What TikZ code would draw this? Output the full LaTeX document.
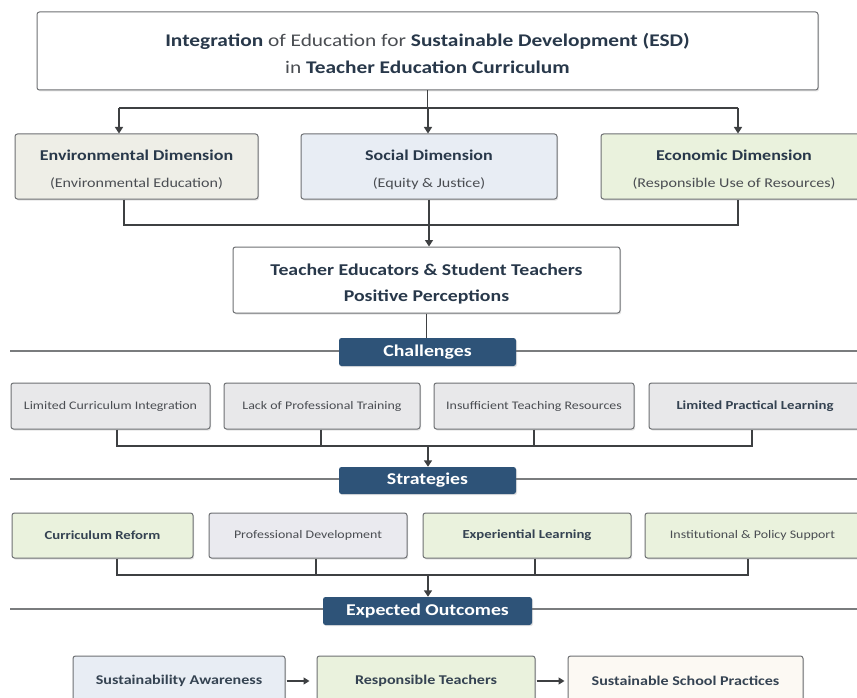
\documentclass[tikz,border=0pt]{standalone}
\usepackage{fontspec}
\setmainfont{Carlito}[FakeStretch=1.2]
\usetikzlibrary{arrows.meta,shadows}
\definecolor{navy}{HTML}{2E5378}
\definecolor{ink}{HTML}{28384A}
\definecolor{txtg}{HTML}{4A4D52}
\definecolor{bord}{HTML}{6E7073}
\definecolor{conn}{HTML}{3E4042}
\definecolor{rulec}{HTML}{7A7C7E}
\definecolor{fenv}{HTML}{EEEEE7}
\definecolor{fsoc}{HTML}{E8EDF4}
\definecolor{fgreen}{HTML}{EAF2DD}
\definecolor{fgray}{HTML}{E8E8EA}
\definecolor{fgrayb}{HTML}{EAEAEF}
\definecolor{fcream}{HTML}{FCF9F3}
\tikzset{
  box/.style={draw=bord, line width=1pt, rounded corners=2.5pt, inner sep=2pt, align=center,
    drop shadow={opacity=0.22, shadow xshift=1.2pt, shadow yshift=-1.5pt}},
  txt/.style={inner sep=0pt, align=center},
  lbl/.style={fill=navy, text=white, rounded corners=2.5pt, inner sep=0pt,
    font=\fontsize{16.5}{18}\selectfont\bfseries,
    drop shadow={opacity=0.22, shadow xshift=1pt, shadow yshift=-1.2pt}},
  conn/.style={draw=conn, line width=1.5pt},
  arr/.style={conn, -{Triangle[width=8pt,length=6.5pt]}},
  rulel/.style={draw=rulec, line width=1.4pt},
  small/.style={font=\fontsize{11.6}{14}\selectfont, text=txtg},
  smallb/.style={font=\fontsize{12.3}{14}\selectfont\bfseries, text=ink!85!gray},
  outb/.style={font=\fontsize{13.4}{14}\selectfont\bfseries, text=ink!85!gray},
  dim/.style={box, minimum height=65pt},
  dimtxt/.style={txt, font=\fontsize{13.4}{27}\selectfont, text=txtg},
}
\begin{document}
\begin{tikzpicture}[x=1pt,y=-1pt]
\useasboundingbox (0,0) rectangle (857,698);
\clip (0,0) rectangle (857,698);
\fill[white] (0,0) rectangle (857,698);

% rules
\coordinate (r1l) at (10,351); \coordinate (r1r) at (860,351);
\coordinate (r2l) at (10,479); \coordinate (r2r) at (860,479);
\coordinate (r3l) at (10,609); \coordinate (r3r) at (860,609);
\draw[rulel] (r1l) -- (r1r);
\draw[rulel] (r2l) -- (r2r);
\draw[rulel] (r3l) -- (r3r);

% top box
\node[box, fill=white, minimum width=781pt, minimum height=78pt] (top) at (427.5,51) {};
\node[txt, text=ink, font=\fontsize{17.8}{27}\selectfont] (toptxt) at ([yshift=-2.5pt]top.center)
  {\textbf{Integration} {\color{txtg}of Education for} \textbf{Sustainable Development (ESD)}\\
   {\color{txtg}in} \textbf{Teacher Education Curriculum}};

% dimensions
\node[dim, fill=fenv, minimum width=243pt] (env) at (136.5,166.5) {};
\node[dimtxt] (envtxt) at ([yshift=-3pt]env.center)
  {{\fontsize{15}{27}\selectfont\bfseries\color{ink}Environmental Dimension}\\(Environmental Education)};
\node[dim, fill=fsoc, minimum width=256pt] (soc) at (429,166.5) {};
\node[dimtxt] (soctxt) at ([yshift=-3pt]soc.center)
  {{\fontsize{15}{27}\selectfont\bfseries\color{ink}Social Dimension}\\(Equity \& Justice)};
\node[dim, fill=fgreen, minimum width=266pt] (eco) at (734,166.5) {};
\node[dimtxt] (ecotxt) at ([yshift=-3pt]eco.center)
  {{\fontsize{15}{27}\selectfont\bfseries\color{ink}Economic Dimension}\\(Responsible Use of Resources)};

% top -> dimensions
\coordinate (b0) at (427.5,108);
\coordinate (bl) at (119,108);
\coordinate (bm) at (428,108);
\coordinate (br) at (738,108);
\draw[conn] (top.south) -- (b0);
\draw[conn] (bl) -- (br);
\draw[arr] (bl) -- (bl |- env.north);
\draw[arr] (bm) -- (bm |- soc.north);
\draw[arr] (br) -- (br |- eco.north);

% teacher box
\node[box, fill=white, minimum width=387pt, minimum height=66pt] (tea) at (426.5,280) {};
\node[txt, text=ink, font=\fontsize{16.5}{26}\selectfont\bfseries] (teatxt) at ([yshift=-4pt]tea.center)
  {Teacher Educators \& Student Teachers\\Positive Perceptions};

\coordinate (c1) at (124,225);
\coordinate (c2) at (738,225);
\draw[conn] (c1 |- env.south) -- (c1) -- (c2) -- (c2 |- eco.south);
\draw[arr] (soc.south) -- (soc.south |- tea.north);

% challenges
\node[lbl, minimum width=177pt, minimum height=28pt] (chal) at (427.5,352) {Challenges};
\draw[conn] (tea.south) -- (tea.south |- chal.north);

\node[box, fill=fgray, minimum width=199pt, minimum height=46pt, small] (ch1) at (110.5,406) {Limited Curriculum Integration};
\node[box, fill=fgray, minimum width=196pt, minimum height=46pt, small] (ch2) at (322,406) {Lack of Professional Training};
\node[box, fill=fgray, minimum width=200pt, minimum height=46pt, small] (ch3) at (534,406) {Insufficient Teaching Resources};
\node[box, fill=fgray, minimum width=212pt, minimum height=46pt, smallb] (ch4) at (755,406) {Limited Practical Learning};

% strategies label
\node[lbl, minimum width=177pt, minimum height=27pt] (strat) at (427.5,480.5) {Strategies};

\coordinate (d1) at (117,446);
\coordinate (d2) at (321,446);
\coordinate (d3) at (534,446);
\coordinate (d4) at (752,446);
\coordinate (dm) at (428,446);
\draw[conn] (d1 |- ch1.south) -- (d1) -- (d4) -- (d4 |- ch4.south);
\draw[conn] (d2 |- ch2.south) -- (d2);
\draw[conn] (d3 |- ch3.south) -- (d3);
\draw[arr] (dm) -- (dm |- strat.north);

\node[box, fill=fgreen, minimum width=181pt, minimum height=45pt, smallb] (s1) at (102.5,535.5) {Curriculum Reform};
\node[box, fill=fgrayb, minimum width=198pt, minimum height=45pt, small] (s2) at (308,535.5) {Professional Development};
\node[box, fill=fgreen, minimum width=208pt, minimum height=45pt, smallb] (s3) at (527,535.5) {Experiential Learning};
\node[box, fill=fgreen, minimum width=215pt, minimum height=45pt, small] (s4) at (752.5,535.5) {Institutional \& Policy Support};

% expected outcomes
\node[lbl, minimum width=209pt, minimum height=28pt] (exp) at (427.5,611) {Expected Outcomes};

\coordinate (e1) at (117,575);
\coordinate (e2) at (316,575);
\coordinate (e3) at (535,575);
\coordinate (e4) at (748,575);
\coordinate (em) at (428,575);
\draw[conn] (e1 |- s1.south) -- (e1) -- (e4) -- (e4 |- s4.south);
\draw[conn] (e2 |- s2.south) -- (e2);
\draw[conn] (e3 |- s3.south) -- (e3);
\draw[arr] (em) -- (em |- exp.north);

\node[box, fill=fsoc, minimum width=212pt, minimum height=50pt, outb] (o1) at (179,681) {Sustainability Awareness};
\node[box, fill=fgreen, minimum width=218pt, minimum height=50pt, outb] (o2) at (426,681) {Responsible Teachers};
\node[box, fill=fcream, minimum width=235pt, minimum height=50pt, outb] (o3) at (685.5,681) {Sustainable School Practices};
\draw[arr, line width=1.3pt, -{Triangle[width=7pt,length=6pt]}, shorten <=1pt, shorten >=7pt] (o1.east) -- (o2.west);
\draw[arr, line width=1.3pt, -{Triangle[width=7pt,length=6pt]}, shorten <=1pt, shorten >=3pt] (o2.east) -- (o3.west);
\end{tikzpicture}
\end{document}
